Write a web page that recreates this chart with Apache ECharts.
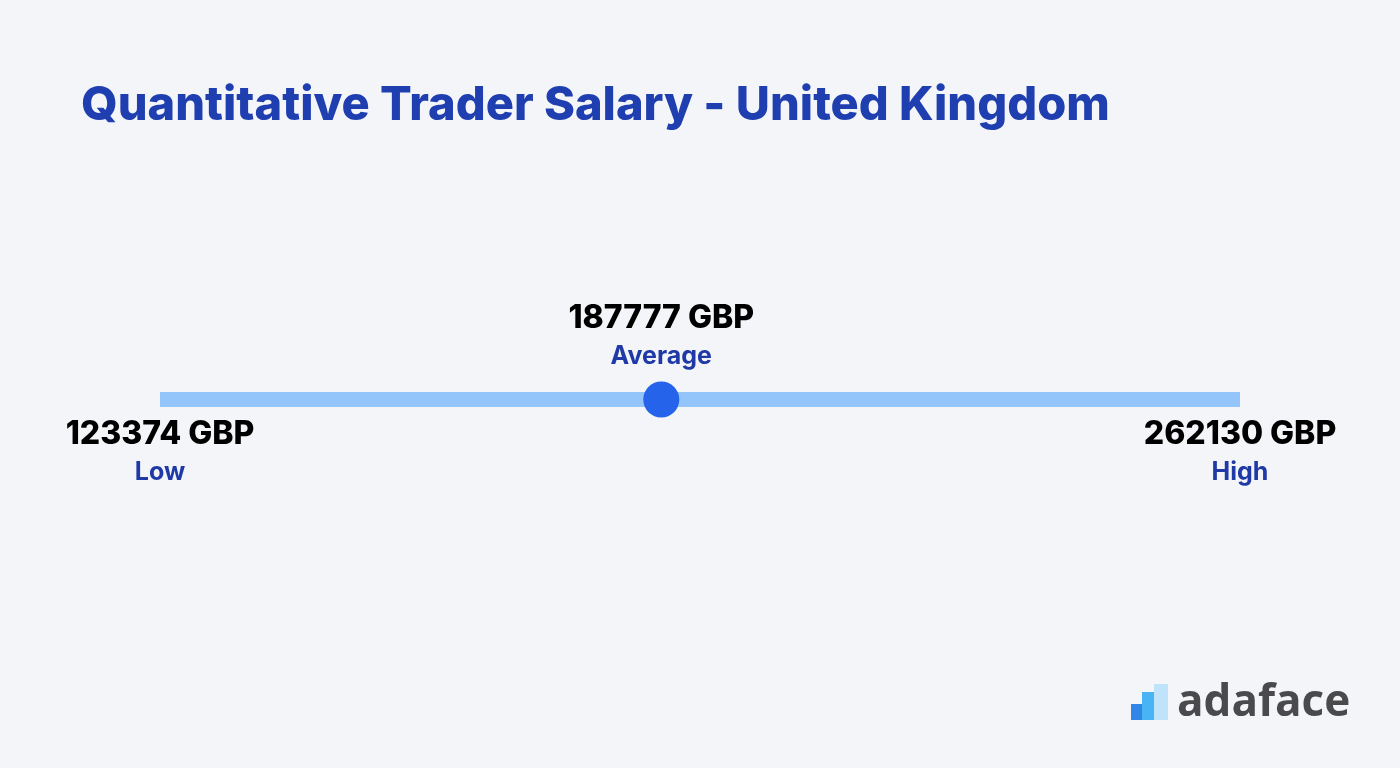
<!DOCTYPE html>
<html><head><meta charset="utf-8">
<script src="https://cdn.jsdelivr.net/npm/echarts@6/dist/echarts.min.js"></script>
<style>html,body{margin:0;padding:0;background:#f3f5f8;}#c{width:1400px;height:768px;}</style>
</head><body><div id="c"></div>
<script>
const titleText = 'Quantitative Trader Salary - United Kingdom';
const categories = ['Low', 'Average', 'High'];
const values = [123374, 187777, 262130];
const currency = 'GBP';

const chart = echarts.init(document.getElementById('c'), null, {renderer: 'canvas'});
const FONT = 'Inter';
const lowV = values[0], avgV = values[1], highV = values[2];
function lbl(i, offY) {
  return {
    show: true, position: 'inside', offset: [0, offY], opacity: 1,
    formatter: '{v|' + values[i] + ' ' + currency + '}\n{n|' + categories[i] + '}',
    rich: {
      v: {fontFamily: FONT, fontWeight: 800, fontSize: 32, color: '#000000', lineHeight: 38, align: 'center'},
      n: {fontFamily: FONT, fontWeight: 700, fontSize: 25, color: '#1f3aa6', lineHeight: 38, align: 'center'}
    }
  };
}
chart.setOption({
  backgroundColor: '#f3f5f8',
  animation: false,
  title: {text: titleText, left: 76, top: 77,
    textStyle: {fontFamily: FONT, fontWeight: 800, fontSize: 47, color: '#1f3fb0'}},
  grid: {left: 160, right: 160, top: 392, height: 15},
  xAxis: {type: 'value', min: lowV, max: highV, show: false},
  yAxis: {type: 'category', data: ['s'], show: false},
  series: [
    {type: 'line', data: [[lowV, 's'], [highV, 's']], symbol: 'none', silent: true,
     lineStyle: {width: 15, color: '#93c5fb', cap: 'butt', opacity: 1}, z: 1},
    {type: 'scatter', data: [[avgV, 's']], symbolSize: 36, itemStyle: {color: '#2563eb', opacity: 1}, z: 3,
     label: lbl(1, -62)},
    {type: 'scatter', data: [{value: [lowV, 's'], label: lbl(0, 54)}, {value: [highV, 's'], label: lbl(2, 54)}],
     symbolSize: 0, itemStyle: {color: '#f3f5f8', opacity: 1}, z: 2}
  ],
  graphic: [
    {type: 'rect', shape: {x: 1131, y: 704, width: 11, height: 16}, style: {fill: '#2f86e6'}},
    {type: 'rect', shape: {x: 1142, y: 692, width: 12, height: 28}, style: {fill: '#49b4f4'}},
    {type: 'rect', shape: {x: 1154, y: 684, width: 14, height: 36}, style: {fill: '#bfe3fb'}},
    {type: 'text', left: 1177, top: 681, style: {text: 'adaface', fontFamily: 'Open Sans', fontWeight: 700, fontSize: 44, fill: '#4a4a4c'}}
  ]
});
</script></body></html>
